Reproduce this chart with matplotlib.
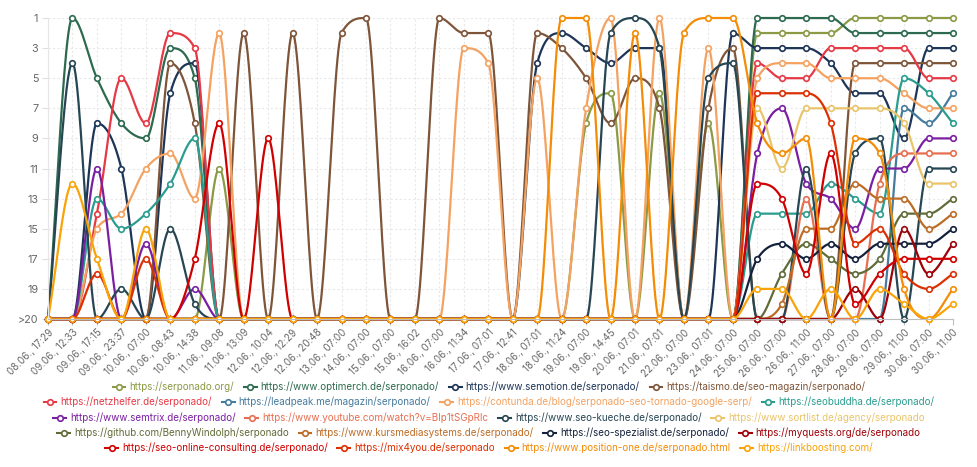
import numpy as np
import matplotlib
matplotlib.use("Agg")
import matplotlib.pyplot as plt
from matplotlib.lines import Line2D

plt.rcParams['font.family'] = ['Inter', 'DejaVu Sans']

dates = ["08.06., 17:29", "09.06., 12:33", "09.06., 17:15", "09.06., 23:37", "10.06., 07:00",
         "10.06., 08:43", "10.06., 14:38", "11.06., 09:08", "11.06., 13:09", "12.06., 10:04",
         "12.06., 12:29", "12.06., 20:48", "13.06., 07:00", "14.06., 07:00", "15.06., 07:00",
         "15.06., 16:02", "16.06., 07:00", "16.06., 11:34", "17.06., 07:01", "17.06., 12:41",
         "18.06., 07:01", "18.06., 11:24", "19.06., 07:00", "19.06., 14:45", "20.06., 07:01",
         "21.06., 07:01", "22.06., 07:00", "23.06., 07:01", "24.06., 07:00", "25.06., 07:00",
         "26.06., 07:00", "26.06., 11:00", "27.06., 07:00", "28.06., 07:00", "29.06., 07:00",
         "29.06., 11:00", "30.06., 07:00", "30.06., 11:00"]

# rank per date, 21 means ">20"
serponado_org = [21, 21, 21, 21, 21, 21, 21, 11, 21, 21, 21, 21, 21, 21, 21, 21, 21, 21, 21, 21,
                 21, 21, 8, 6, 21, 6, 21, 8, 21, 2, 2, 2, 2, 1, 1, 1, 1, 1]
optimerch = [21, 1, 5, 8, 9, 3, 5, 21, 21, 21, 21, 21, 21, 21, 21, 21, 21, 21, 21, 21,
             21, 21, 21, 21, 21, 21, 21, 21, 21, 1, 1, 1, 1, 2, 2, 2, 2, 2]
semotion = [21, 21, 8, 11, 21, 6, 4, 21, 21, 21, 21, 21, 21, 21, 21, 21, 21, 21, 21, 21,
            4, 2, 3, 4, 3, 3, 21, 21, 2, 3, 3, 3, 4, 6, 6, 9, 3, 3]
taismo = [21, 21, 21, 21, 21, 4, 8, 21, 2, 21, 2, 21, 2, 1, 21, 21, 1, 2, 2, 21,
          2, 3, 5, 8, 5, 7, 21, 7, 3, 21, 21, 21, 21, 4, 4, 4, 4, 4]
netzhelfer = [21, 21, 14, 5, 8, 2, 3, 21, 21, 21, 21, 21, 21, 21, 21, 21, 21, 21, 21, 21,
              21, 21, 21, 21, 21, 21, 21, 21, 21, 4, 5, 5, 3, 3, 3, 3, 5, 5]
leadpeak = [21, 21, 21, 21, 21, 21, 21, 21, 21, 21, 21, 21, 21, 21, 21, 21, 21, 21, 21, 21,
            21, 21, 21, 21, 21, 21, 21, 21, 21, 21, 21, 21, 21, 21, 21, 7, 8, 6]
contunda = [21, 21, 15, 14, 11, 10, 13, 2, 21, 21, 21, 21, 21, 21, 21, 21, 21, 3, 4, 21,
            5, 21, 7, 1, 21, 1, 21, 3, 21, 5, 4, 4, 5, 5, 5, 6, 7, 7]
seobuddha = [21, 21, 13, 15, 14, 12, 9, 21, 21, 21, 21, 21, 21, 21, 21, 21, 21, 21, 21, 21,
             21, 21, 21, 21, 21, 21, 21, 21, 21, 14, 14, 14, 12, 13, 14, 5, 6, 8]
semtrix = [21, 21, 11, 21, 16, 21, 19, 21, 21, 21, 21, 21, 21, 21, 21, 21, 21, 21, 21, 21,
           21, 21, 21, 21, 21, 21, 21, 21, 21, 10, 7, 12, 13, 15, 11, 11, 9, 9]
youtube = [21, 21, 21, 21, 21, 21, 21, 21, 21, 21, 21, 21, 21, 21, 21, 21, 21, 21, 21, 21,
           21, 21, 21, 21, 21, 21, 21, 21, 21, 21, 21, 13, 21, 21, 12, 10, 10, 10]
seo_kueche = [21, 4, 21, 19, 21, 15, 20, 21, 21, 21, 21, 21, 21, 21, 21, 21, 21, 21, 21, 21,
              21, 21, 21, 2, 1, 3, 21, 5, 4, 21, 21, 11, 21, 10, 9, 21, 11, 11]
sortlist = [21, 21, 21, 21, 21, 21, 21, 21, 21, 21, 21, 21, 21, 21, 21, 21, 21, 21, 21, 21,
            21, 21, 21, 21, 21, 21, 21, 21, 21, 7, 11, 7, 7, 7, 7, 8, 12, 12]
github = [21, 21, 21, 21, 21, 21, 21, 21, 21, 21, 21, 21, 21, 21, 21, 21, 21, 21, 21, 21,
          21, 21, 21, 21, 21, 21, 21, 21, 21, 21, 18, 16, 17, 18, 17, 14, 14, 13]
kursmedia = [21, 21, 21, 21, 21, 21, 21, 21, 21, 21, 21, 21, 21, 21, 21, 21, 21, 21, 21, 21,
             21, 21, 21, 21, 21, 21, 21, 21, 21, 21, 20, 15, 15, 12, 13, 13, 15, 14]
seo_spezialist = [21, 21, 21, 21, 21, 21, 21, 21, 21, 21, 21, 21, 21, 21, 21, 21, 21, 21, 21, 21,
                  21, 21, 21, 21, 21, 21, 21, 21, 21, 17, 16, 17, 16, 17, 16, 16, 16, 15]
myquests = [21, 21, 21, 21, 21, 21, 21, 21, 21, 21, 21, 21, 21, 21, 21, 21, 21, 21, 21, 21,
            21, 21, 21, 21, 21, 21, 21, 21, 21, 21, 21, 21, 21, 19, 21, 15, 18, 16]
seo_online = [21, 21, 21, 21, 21, 21, 17, 8, 21, 9, 21, 21, 21, 21, 21, 21, 21, 21, 21, 21,
              21, 21, 21, 21, 21, 21, 21, 21, 21, 12, 13, 18, 10, 20, 18, 17, 17, 17]
mix4you = [21, 21, 18, 21, 17, 21, 21, 21, 21, 21, 21, 21, 21, 21, 21, 21, 21, 21, 21, 21,
           21, 21, 21, 21, 21, 21, 21, 21, 21, 6, 6, 6, 8, 16, 15, 18, 19, 18]
position_one = [21, 21, 21, 21, 21, 21, 21, 21, 21, 21, 21, 21, 21, 21, 21, 21, 21, 21, 21, 21,
                21, 1, 1, 21, 2, 21, 2, 1, 1, 8, 10, 9, 21, 9, 10, 19, 21, 19]
linkboosting = [21, 12, 17, 21, 15, 21, 21, 21, 21, 21, 21, 21, 21, 21, 21, 21, 21, 21, 21, 21,
                21, 21, 21, 21, 21, 21, 21, 21, 21, 19, 19, 21, 19, 21, 19, 20, 21, 20]

labels = ["https://serponado.org/", "https://www.optimerch.de/serponado/",
          "https://www.semotion.de/serponado/", "https://taismo.de/seo-magazin/serponado/",
          "https://netzhelfer.de/serponado/", "https://leadpeak.me/magazin/serponado/",
          "https://contunda.de/blog/serponado-seo-tornado-google-serp/", "https://seobuddha.de/serponado/",
          "https://www.semtrix.de/serponado/", "https://www.youtube.com/watch?v=BIp1tSGpRlc",
          "https://www.seo-kueche.de/serponado/", "https://www.sortlist.de/agency/serponado",
          "https://github.com/BennyWindolph/serponado", "https://www.kursmediasystems.de/serponado/",
          "https://seo-spezialist.de/serponado/", "https://myquests.org/de/serponado",
          "https://seo-online-consulting.de/serponado/", "https://mix4you.de/serponado",
          "https://www.position-one.de/serponado.html", "https://linkboosting.com/"]
colors = ["#8a9a45", "#2d6a4f", "#1d3557", "#7f5539", "#e63946", "#457b9d", "#f4a261", "#2a9d8f",
          "#7b1fa2", "#e76f51", "#264653", "#e9c46a", "#606c38", "#bc6c25", "#14213d", "#9d0208",
          "#d00000", "#dc2f02", "#f48c06", "#faa307"]
series = [serponado_org, optimerch, semotion, taismo, netzhelfer, leadpeak, contunda, seobuddha,
          semtrix, youtube, seo_kueche, sortlist, github, kursmedia, seo_spezialist, myquests,
          seo_online, mix4you, position_one, linkboosting]


def monotone_curve(y, steps=24):
    # monotone cubic interpolation like chart.js
    y = np.asarray(y, dtype=float)
    n = len(y)
    d = np.diff(y)
    m = np.zeros(n)
    m[0], m[-1] = d[0], d[-1]
    for k in range(1, n - 1):
        if np.sign(d[k - 1]) != np.sign(d[k]):
            m[k] = 0
        else:
            m[k] = (d[k - 1] + d[k]) / 2
    for k in range(n - 1):
        if d[k] == 0:
            m[k] = m[k + 1] = 0
            continue
        a, b = m[k] / d[k], m[k + 1] / d[k]
        s = a * a + b * b
        if s > 9:
            t = 3 / np.sqrt(s)
            m[k], m[k + 1] = a * t * d[k], b * t * d[k]
    xs, ys = [], []
    t = np.linspace(0, 1, steps, endpoint=False)
    h00 = 2 * t**3 - 3 * t**2 + 1
    h10 = t**3 - 2 * t**2 + t
    h01 = -2 * t**3 + 3 * t**2
    h11 = t**3 - t**2
    for k in range(n - 1):
        xs.append(k + t)
        ys.append(h00 * y[k] + h10 * m[k] + h01 * y[k + 1] + h11 * m[k + 1])
    xs.append([n - 1])
    ys.append([y[-1]])
    return np.concatenate(xs), np.concatenate(ys)


fig = plt.figure(figsize=(9.78, 4.67), dpi=100)
ax = fig.add_axes([48 / 978, 1 - 319 / 467, 905 / 978, 301 / 467])

x = np.arange(len(dates))
for vals, c in zip(series, colors):
    cx, cy = monotone_curve(vals)
    ax.plot(cx, cy, color=c, lw=1.6, clip_on=False, solid_capstyle='round')
    ax.plot(x, vals, ls='none', marker='o', ms=4, mfc='white', mec=c, mew=1.2, clip_on=False)

ax.set_xlim(0, len(dates) - 1)
ax.set_ylim(21, 1)
yt = list(range(1, 22, 2))
ax.set_yticks(yt)
ax.set_yticklabels([str(v) if v < 21 else ">20" for v in yt], fontsize=7.8, color="#666666")
ax.set_xticks(x)
ax.set_xticklabels(dates, rotation=45, ha='right', va='top', rotation_mode='anchor',
                   fontsize=7, color="#666666")
ax.tick_params(axis='x', length=4, color="#bdbdbd", pad=2)
ax.tick_params(axis='y', length=4, color="#e0e0e0", pad=3)
ax.grid(True, ls=(0, (2, 2)), color="#e8e8e8", lw=0.8)
ax.set_axisbelow(True)
for s in ['top', 'right']:
    ax.spines[s].set_visible(False)
ax.spines['left'].set_color("#e6e6e6")
ax.spines['bottom'].set_color("#bdbdbd")

# legend: 5 centred rows of 4
row_y = [387, 402, 418, 433, 448]
for r, yy in enumerate(row_y):
    idx = range(r * 4, r * 4 + 4)
    handles = [Line2D([], [], color=colors[i], lw=1.5, marker='o', ms=4, mfc='white',
                      mec=colors[i], mew=1.2) for i in idx]
    leg = fig.legend(handles, [labels[i] for i in idx], loc='center', ncol=4,
                     bbox_to_anchor=(0.5, 1 - yy / 467), frameon=False, fontsize=7.1,
                     handlelength=1.3, handletextpad=0.4, columnspacing=1.0, borderpad=0)
    for txt, i in zip(leg.get_texts(), idx):
        txt.set_color(colors[i])

fig.savefig("out.png", dpi=100)
